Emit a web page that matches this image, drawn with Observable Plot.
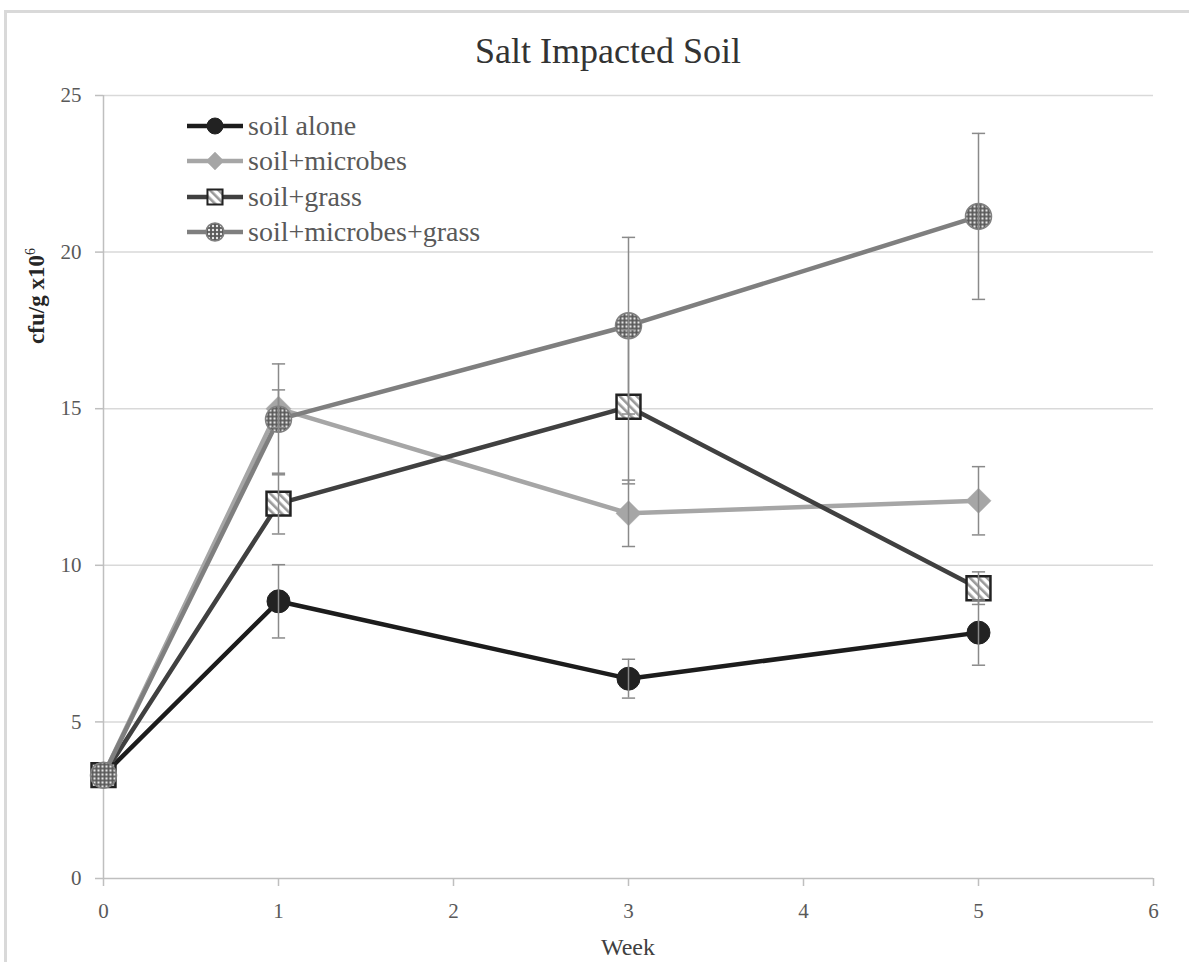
<!DOCTYPE html>
<html>
<head>
<meta charset="utf-8">
<script src="https://cdn.jsdelivr.net/npm/d3@7"></script>
<script src="https://cdn.jsdelivr.net/npm/@observablehq/plot@0.6"></script>
<style>
  body { margin: 0; background: #fff; }
  #wrap { position: relative; width: 1189px; height: 962px; overflow: hidden; background: #fff; }
  #frame { position: absolute; left: 4px; top: 10px; width: 1220px; height: 1000px; border: 3px solid #d9d9d9; box-sizing: border-box; }
  #chart { position: absolute; left: 0; top: 0; }
  #overlay { position: absolute; left: 0; top: 0; pointer-events: none; font-family: 'Liberation Serif', 'Times New Roman', serif; }
  #overlay text { font-family: 'Liberation Serif', 'Times New Roman', serif; }
</style>
</head>
<body>
<div id="wrap">
  <div id="frame"></div>
  <div id="chart"></div>
  <svg id="overlay" width="1189" height="962" xmlns="http://www.w3.org/2000/svg">
    <defs>
      <pattern id="hatch" width="6" height="6" patternUnits="userSpaceOnUse" patternTransform="rotate(-45)">
        <rect width="6" height="6" fill="#ffffff"></rect>
        <rect width="2.6" height="6" fill="#9a9a9a"></rect>
      </pattern>
      <pattern id="dots" width="4" height="4" patternUnits="userSpaceOnUse">
        <rect width="4" height="4" fill="#5a5a5a"></rect>
        <circle cx="2" cy="2" r="1.2" fill="#e8e8e8"></circle>
      </pattern>
    </defs>
  </svg>
</div>
<script>
// ---- data ----
const weeks = [0, 1, 3, 5];
const seriesNames = ["soil alone", "soil+microbes", "soil+grass", "soil+microbes+grass"];
const soilAlone = [3.3, 8.85, 6.38, 7.85];
const soilAloneErr = [0, 1.17, 0.62, 1.04];
const soilMicrobes = [3.3, 15.0, 11.66, 12.06];
const soilMicrobesErr = [0, 0.6, 1.06, 1.09];
const soilGrass = [3.3, 11.97, 15.06, 9.27];
const soilGrassErr = [0, 0.97, 2.46, 0.52];
const soilMicrobesGrass = [3.3, 14.66, 17.65, 21.14];
const soilMicrobesGrassErr = [0, 1.77, 2.82, 2.65];
const xTicks = [0, 1, 2, 3, 4, 5, 6];
const yTicks = [0, 5, 10, 15, 20, 25];
const titleText = "Salt Impacted Soil";
const xLabel = "Week";

// ---- styles per series ----
const styles = [
  {line: "#1c1c1c", symbol: "circle", r: 11.5, fill: "#222222", stroke: "#222222", sw: 1, lr: 8},
  {line: "#a6a6a6", symbol: "diamond2", r: 11.3, fill: "#a6a6a6", stroke: "#a6a6a6", sw: 0.5, lr: 8},
  {line: "#404040", symbol: "square", r: 13.5, fill: "url(#hatch)", stroke: "#222222", sw: 2.5, lr: 8.5},
  {line: "#7f7f7f", symbol: "circle", r: 13, fill: "url(#dots)", stroke: "#808080", sw: 1.5, lr: 9}
];
const valuesList = [soilAlone, soilMicrobes, soilGrass, soilMicrobesGrass];
const errList = [soilAloneErr, soilMicrobesErr, soilGrassErr, soilMicrobesGrassErr];

const rows = seriesNames.map((name, i) =>
  weeks.map((w, j) => ({series: name, week: w, value: valuesList[i][j], err: errList[i][j]}))
);

const capSymbol = {
  draw(ctx, size) {
    const w = Math.sqrt(size / Math.PI) * 1.65;
    ctx.moveTo(-w, 0);
    ctx.lineTo(w, 0);
  }
};

const serif = "'Liberation Serif', 'Times New Roman', serif";

const marks = [
  Plot.ruleY(yTicks.filter(d => d > 0), {y: d => d, stroke: "#d9d9d9", strokeWidth: 1.5}),
  Plot.ruleY([0], {y: d => d, stroke: "#bfbfbf", strokeWidth: 1.5}),
  Plot.ruleX([0], {x: d => d, stroke: "#bfbfbf", strokeWidth: 1.5}),
  Plot.axisX({ticks: xTicks, tickFormat: d => String(d), tickSize: 8, tickPadding: 17, fontSize: 21, fill: "#595959", stroke: "#bfbfbf", strokeWidth: 1.5, label: null}),
  Plot.axisY({ticks: yTicks, tickFormat: d => String(d), tickSize: 8, tickPadding: 14, fontSize: 21, fill: "#595959", stroke: "#bfbfbf", strokeWidth: 1.5, label: null})
];

rows.forEach((data, i) => {
  const s = styles[i];
  marks.push(Plot.line(data, {x: "week", y: "value", stroke: s.line, strokeWidth: 4.5, strokeLinejoin: "round"}));
  marks.push(Plot.dot(data, {x: "week", y: "value", symbol: s.symbol, r: s.r, fill: s.fill, stroke: s.stroke, strokeWidth: s.sw}));
});

rows.forEach((data) => {
  const e = data.filter(d => d.err > 0);
  marks.push(Plot.ruleX(e, {x: "week", y1: d => d.value - d.err, y2: d => d.value + d.err, stroke: "#8a8a8a", strokeWidth: 1.5}));
  marks.push(Plot.dot(e, {x: "week", y: d => d.value + d.err, symbol: capSymbol, r: 4, stroke: "#8a8a8a", strokeWidth: 1.5, fill: "none"}));
  marks.push(Plot.dot(e, {x: "week", y: d => d.value - d.err, symbol: capSymbol, r: 4, stroke: "#8a8a8a", strokeWidth: 1.5, fill: "none"}));
});

const chart = Plot.plot({
  width: 1189,
  height: 962,
  marginLeft: 103,
  marginRight: 36,
  marginTop: 95,
  marginBottom: 84,
  style: {background: "transparent", fontFamily: serif},
  x: {domain: [0, 6], label: null},
  y: {domain: [0, 25], label: null},
  marks
});
document.getElementById("chart").appendChild(chart);

// ---- overlay texts and legend ----
const ns = "http://www.w3.org/2000/svg";
const ov = document.getElementById("overlay");
function el(tag, attrs, text) {
  const e = document.createElementNS(ns, tag);
  for (const k in attrs) e.setAttribute(k, attrs[k]);
  if (text != null) e.textContent = text;
  ov.appendChild(e);
  return e;
}
el("text", {x: 608, y: 63, "text-anchor": "middle", "font-size": 36, fill: "#333333"}, titleText);
el("text", {x: 628, y: 955, "text-anchor": "middle", "font-size": 24, fill: "#404040"}, xLabel);
const yl = el("text", {transform: "translate(44,296) rotate(-90)", "text-anchor": "middle", "font-size": 23, "font-weight": "bold", fill: "#262626"});
yl.appendChild(document.createTextNode("cfu/g x10"));
const sup = document.createElementNS(ns, "tspan");
sup.setAttribute("dy", "-9");
sup.setAttribute("font-size", "14");
sup.setAttribute("font-weight", "normal");
sup.textContent = "6";
yl.appendChild(sup);

const legendY = [126, 161, 197, 232];
seriesNames.forEach((name, i) => {
  const s = styles[i];
  const y = legendY[i];
  el("line", {x1: 187, x2: 243, y1: y, y2: y, stroke: s.line, "stroke-width": 4.5});
  const sym = s.symbol === "circle" ? d3.symbolCircle : s.symbol === "square" ? d3.symbolSquare : d3.symbolDiamond2;
  const path = d3.symbol(sym, s.lr * s.lr * Math.PI)();
  el("path", {d: path, transform: `translate(215,${y})`, fill: s.fill, stroke: s.stroke, "stroke-width": Math.min(s.sw, 2)});
  el("text", {x: 248, y: y, dy: "0.33em", "font-size": 28, fill: "#595959"}, name);
});
</script>
</body>
</html>
